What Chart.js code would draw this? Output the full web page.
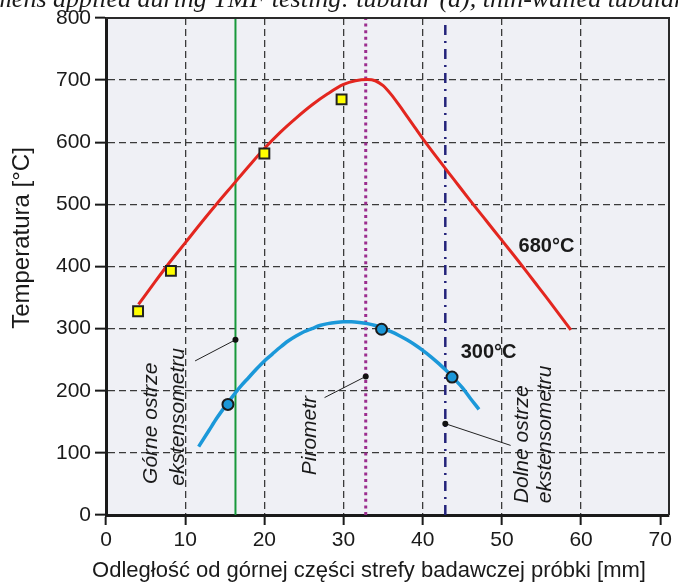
<!DOCTYPE html>
<html>
<head>
<meta charset="utf-8">
<script src="https://cdn.jsdelivr.net/npm/chart.js@4.4.0/dist/chart.umd.min.js"></script>
<style>
html,body{margin:0;padding:0;background:#ffffff;}
#wrap{width:678px;height:583px;position:relative;overflow:hidden;}
</style>
</head>
<body>
<div id="wrap"><canvas id="c" width="678" height="583"></canvas></div>
<script>
// ---------- data ----------
const xTickValues = [0, 10, 20, 30, 40, 50, 60, 70];
const yTickValues = [0, 100, 200, 300, 400, 500, 600, 700, 800];

const curve680X = [4.1, 6, 8, 10, 12, 14, 16, 18, 20, 22, 24, 26, 28, 30, 31.5, 33, 34, 35, 36, 37, 38, 39, 40, 42, 44, 46, 48, 50, 52, 54, 56, 58.7];
const curve680Y = [339, 372, 406, 438, 470, 501, 531, 561, 590, 616, 639, 660, 678, 693, 699, 701, 699, 691, 677, 660, 642, 624, 606, 572, 539, 506, 474, 442, 410, 377, 344, 298];

const curve300X = [11.7, 13, 14, 15, 16, 17, 18, 19, 20, 21, 22, 23, 24, 25, 26, 27, 28, 29, 30, 31, 32, 33, 34, 35, 36, 37, 38, 39, 40, 41, 42, 43, 44, 45, 46, 47.1];
const curve300Y = [110, 136, 156, 174, 191, 207, 221, 235, 248, 259, 270, 280, 288, 295, 300, 305, 308, 310, 311, 311, 310, 308, 305, 300, 295, 289, 282, 274, 265, 255, 244, 232, 219, 205, 188, 170];

const squares680X = [4.05, 8.2, 20.0, 29.75];
const squares680Y = [328, 393, 582, 669];

const circles300X = [15.4, 34.8, 43.7];
const circles300Y = [178, 299, 222];

const sensorX = [16.35, 32.8, 42.85];          // green, purple, navy reference lines
const sensorDotY = [282, 223, 147];
const leaderEndX = [11.25, 27.6, 51.1];
const leaderEndY = [248, 189, 112];

const curveLabels = ['680°C', '300°C'];
const sensorLabels = [['Górne ostrze', 'ekstensometru'], ['Pirometr'], ['Dolne ostrze', 'ekstensometru']];

// ---------- layout / style (not data) ----------
const labelPos680 = {x: 52.1, y: 433};
const labelPos300 = {x: 44.8, y: 261};
const sensorTextPos = [
  [{x: 5.75, y: 50}, {x: 9.1, y: 47}],
  [{x: 25.75, y: 64}],
  [{x: 52.5, y: 19}, {x: 55.5, y: 19}]
];

const toPts = (xs, ys) => xs.map((x, i) => ({x: x, y: ys[i]}));

const decor = {
  id: 'decor',
  beforeDraw(chart) {
    const {ctx, chartArea: a} = chart;
    ctx.save();
    ctx.fillStyle = '#ffffff';
    ctx.fillRect(0, 0, chart.width, chart.height);
    ctx.fillStyle = '#eff0f5';
    ctx.fillRect(a.left, a.top, a.right - a.left, a.bottom - a.top);
    ctx.restore();
  },
  afterDraw(chart) {
    const {ctx, chartArea: a, scales} = chart;
    const X = v => scales.x.getPixelForValue(v);
    const Y = v => scales.y.getPixelForValue(v);
    ctx.save();
    // frame top & right
    ctx.strokeStyle = '#2a2a2a';
    ctx.lineWidth = 2;
    ctx.beginPath();
    ctx.moveTo(a.left, a.top);
    ctx.lineTo(a.right, a.top);
    ctx.lineTo(a.right, a.bottom);
    ctx.stroke();

    ctx.fillStyle = '#1a1a1a';
    // rotated sensor labels
    ctx.font = "italic 21px 'Liberation Sans', Arial, sans-serif";
    ctx.textAlign = 'left';
    ctx.textBaseline = 'middle';
    sensorLabels.forEach((lines, i) => {
      lines.forEach((t, j) => {
        const p = sensorTextPos[i][j];
        ctx.save();
        ctx.translate(X(p.x), Y(p.y));
        ctx.rotate(-Math.PI / 2);
        ctx.fillText(t, 0, 0);
        ctx.restore();
      });
    });
    // curve labels
    ctx.font = "bold 20px 'Liberation Sans', Arial, sans-serif";
    ctx.fillText(curveLabels[0], X(labelPos680.x), Y(labelPos680.y));
    ctx.fillText(curveLabels[1], X(labelPos300.x), Y(labelPos300.y));

    // axis titles
    ctx.font = "24px 'Liberation Sans', Arial, sans-serif";
    ctx.textAlign = 'center';
    ctx.save();
    ctx.translate(22, 238);
    ctx.rotate(-Math.PI / 2);
    ctx.fillText('Temperatura [°C]', 0, 0);
    ctx.restore();
    ctx.font = "22px 'Liberation Sans', Arial, sans-serif";
    ctx.fillText('Odległość od górnej części strefy badawczej próbki [mm]', 369, 571);

    // cut caption at the top
    ctx.font = "italic 26px 'Liberation Serif', 'Times New Roman', serif";
    ctx.textAlign = 'left';
    ctx.textBaseline = 'alphabetic';
    const x0 = 53 - ctx.measureText('Specimens ').width;
    ctx.fillText('Specimens applied during TMF testing: tubular (a), thin-walled tubular (b)', x0, 7);
    ctx.restore();
  }
};

const tickFont = {family: "'Liberation Sans', Arial, sans-serif", size: 21};

new Chart(document.getElementById('c'), {
  type: 'line',
  data: {
    datasets: [
      {data: toPts(squares680X, squares680Y), showLine: false, pointStyle: 'rect', pointRadius: 7, pointHoverRadius: 7,
       pointBackgroundColor: '#ffff00', pointBorderColor: '#222222', pointBorderWidth: 2, order: 1},
      {data: toPts(circles300X, circles300Y), showLine: false, pointStyle: 'circle', pointRadius: 5.5, pointHoverRadius: 5.5,
       pointBackgroundColor: '#1b97d8', pointBorderColor: '#1a1a1a', pointBorderWidth: 2, order: 1},
      {data: toPts(sensorX, sensorDotY), showLine: false, pointRadius: 3, pointBackgroundColor: '#111111',
       pointBorderWidth: 0, order: 2},
      ...sensorX.map((sx, i) => ({
        data: [{x: sx, y: sensorDotY[i]}, {x: leaderEndX[i], y: leaderEndY[i]}],
        borderColor: '#222222', borderWidth: 1, pointRadius: 0, order: 3
      })),
      {data: toPts(curve680X, curve680Y), borderColor: '#e3261f', borderWidth: 3, pointRadius: 0,
       cubicInterpolationMode: 'monotone', order: 4},
      {data: toPts(curve300X, curve300Y), borderColor: '#1b98d9', borderWidth: 3.5, pointRadius: 0,
       cubicInterpolationMode: 'monotone', order: 4},
      {data: [{x: sensorX[0], y: 0}, {x: sensorX[0], y: 800}], borderColor: '#17983b', borderWidth: 2,
       pointRadius: 0, order: 5},
      {data: [{x: sensorX[1], y: 0}, {x: sensorX[1], y: 800}], borderColor: '#9b2d8e', borderWidth: 3,
       borderDash: [3, 3.6], pointRadius: 0, order: 5},
      {data: [{x: sensorX[2], y: 0}, {x: sensorX[2], y: 800}], borderColor: '#23237a', borderWidth: 2.5,
       borderDash: [10, 6, 2, 6], pointRadius: 0, order: 5}
    ]
  },
  options: {
    responsive: false,
    devicePixelRatio: 1,
    animation: false,
    events: [],
    layout: {padding: {top: 18, right: 3, left: 0, bottom: 0}},
    plugins: {legend: {display: false}, tooltip: {enabled: false}, title: {display: false}},
    scales: {
      x: {
        type: 'linear', min: 0, max: 71.1,
        afterBuildTicks: s => { s.ticks = xTickValues.map(v => ({value: v})); },
        ticks: {stepSize: 10, includeBounds: false, font: tickFont, color: '#1a1a1a', padding: 3, maxRotation: 0, autoSkip: false},
        grid: {
          color: c => (c.tick && (c.tick.value === 0 || c.tick.value === 70)) ? 'rgba(0,0,0,0)' : '#3a3a3a',
          lineWidth: 1.3, tickColor: '#1a1a1a', tickWidth: 2, tickLength: 10, tickBorderDash: []
        },
        border: {display: true, color: '#1a1a1a', width: 3, dash: [7, 4]},
        afterFit: s => { s.height = 68; }
      },
      y: {
        type: 'linear', min: 0, max: 800,
        afterBuildTicks: s => { s.ticks = yTickValues.map(v => ({value: v})); },
        ticks: {stepSize: 100, includeBounds: false, font: tickFont, color: '#1a1a1a', padding: 4, autoSkip: false},
        grid: {
          color: c => (c.tick && (c.tick.value === 0 || c.tick.value === 800)) ? 'rgba(0,0,0,0)' : '#3a3a3a',
          lineWidth: 1.3, tickColor: '#1a1a1a', tickWidth: 2, tickLength: 11, tickBorderDash: []
        },
        border: {display: true, color: '#1a1a1a', width: 3, dash: [7, 4]},
        afterFit: s => { s.width = 106; }
      }
    }
  },
  plugins: [decor]
});
</script>
</body>
</html>
